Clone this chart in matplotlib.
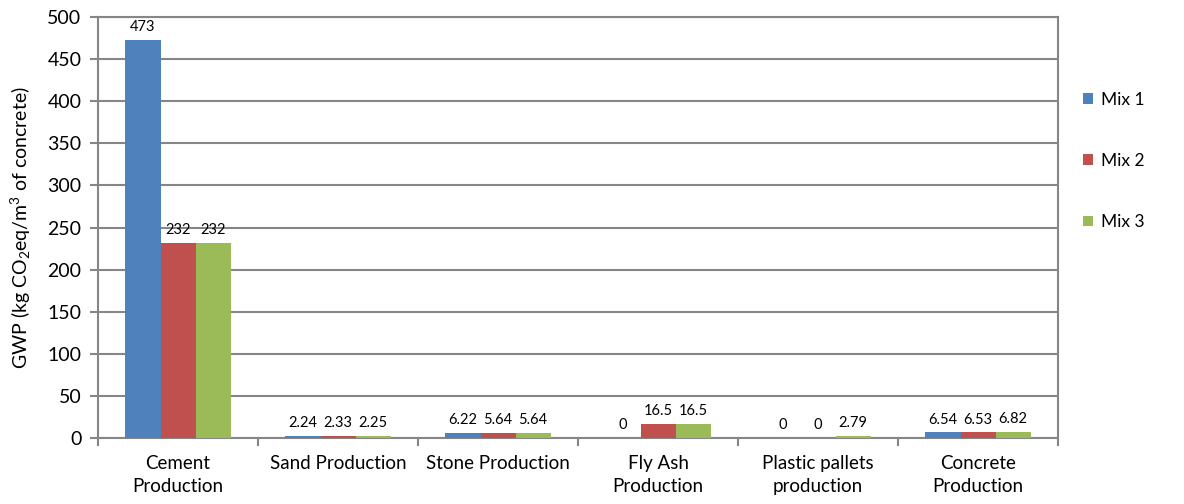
import numpy as np
import matplotlib.pyplot as plt
from matplotlib.ticker import FixedLocator

plt.rcParams.update({
    "font.family": ["Lato", "DejaVu Sans"],
    "mathtext.fontset": "custom",
    "mathtext.rm": "Lato",
    "mathtext.it": "Lato:italic",
})

categories = ["Cement\nProduction", "Sand Production", "Stone Production",
              "Fly Ash\nProduction", "Plastic pallets\nproduction", "Concrete\nProduction"]
mix1 = [473, 2.24, 6.22, 0, 0, 6.54]
mix2 = [232, 2.33, 5.64, 16.5, 0, 6.53]
mix3 = [232, 2.25, 5.64, 16.5, 2.79, 6.82]
labels = ["Mix 1", "Mix 2", "Mix 3"]
colors = ["#4F81BD", "#C0504D", "#9BBB59"]

fig = plt.figure(figsize=(11.84, 5.04), dpi=100)
ax = fig.add_axes([0.0828, 0.131, 0.8108, 0.835])

x = np.arange(len(categories))
w = 0.219
grey = "#868686"

for i, (vals, lab, c) in enumerate(zip([mix1, mix2, mix3], labels, colors)):
    pos = x + (i - 1) * w
    ax.bar(pos, vals, width=w, color=c, label=lab, zorder=3)
    for xp, v in zip(pos, vals):
        ax.text(xp, v + 7, f"{v:g}", ha="center", va="bottom", fontsize=10.5, zorder=4)

ax.set_xlim(-0.5, len(categories) - 0.5)
ax.set_ylim(0, 500)
ax.set_yticks(np.arange(0, 501, 50))
ax.set_xticks(x)
ax.set_xticklabels(categories, fontsize=13.5, linespacing=1.45)
ax.xaxis.set_minor_locator(FixedLocator(np.arange(-0.5, len(categories), 1)))
ax.tick_params(axis="x", which="major", length=0, pad=12)
ax.tick_params(axis="x", which="minor", length=6, width=1.5, color=grey, direction="out")
ax.tick_params(axis="y", length=6, width=1.5, color=grey, labelsize=14, pad=6)

ax.grid(axis="y", color=grey, linewidth=1.5, zorder=0)
for s in ax.spines.values():
    s.set_color(grey)
    s.set_linewidth(1.5)

ax.set_ylabel("GWP (kg CO$_2$eq/m$^3$ of concrete)", fontsize=14, labelpad=10)

ax.legend(loc="upper left", bbox_to_anchor=(1.01, 0.86), frameon=False,
          fontsize=12.5, handlelength=0.55, handleheight=0.55,
          labelspacing=2.6, handletextpad=0.5)

plt.savefig("out.png", dpi=100)
